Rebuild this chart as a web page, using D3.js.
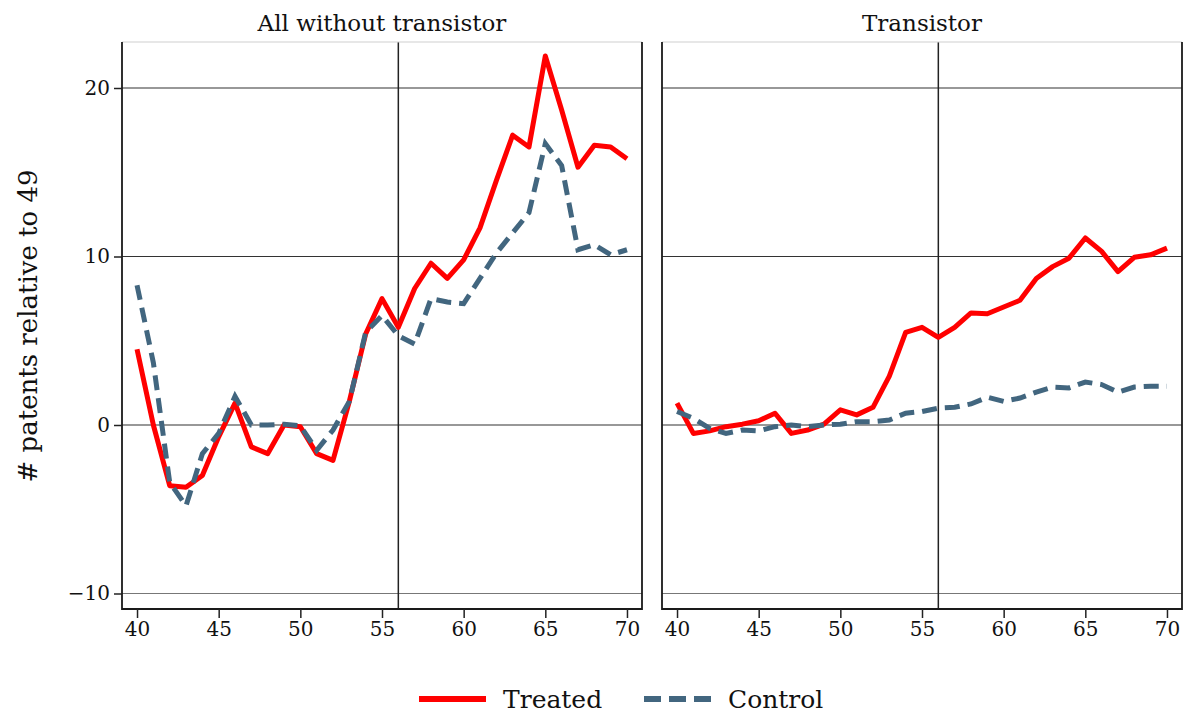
<!DOCTYPE html>
<html>
<head>
<meta charset="utf-8">
<script src="https://cdn.jsdelivr.net/npm/d3@7"></script>
<style>
  body { margin: 0; background: #fff; }
  text { font-family: "DejaVu Serif", serif; fill: #111; }
</style>
</head>
<body>
<script>
// years on the x axis
var years = [40,41,42,43,44,45,46,47,48,49,50,51,52,53,54,55,56,57,58,59,60,61,62,63,64,65,66,67,68,69,70];

// All without transistor
var allTreated = [4.5,0.0,-3.6,-3.7,-3.0,-0.7,1.3,-1.3,-1.7,0.0,-0.1,-1.7,-2.1,1.4,5.4,7.5,5.8,8.1,9.6,8.7,9.8,11.7,14.5,17.2,16.5,21.9,18.7,15.3,16.6,16.5,15.8];
var allControl = [8.3,3.7,-3.4,-4.8,-1.7,-0.5,1.7,0.0,0.0,0.05,-0.05,-1.5,-0.3,1.4,5.5,6.5,5.3,4.8,7.5,7.3,7.2,8.7,10.2,11.4,12.6,16.7,15.4,10.4,10.7,10.1,10.4];

// Transistor
var trTreated = [1.3,-0.5,-0.35,-0.1,0.05,0.25,0.7,-0.5,-0.3,0.05,0.9,0.6,1.05,2.9,5.5,5.8,5.2,5.8,6.65,6.6,7.0,7.4,8.7,9.4,9.9,11.1,10.3,9.1,9.95,10.1,10.5];
var trControl = [0.8,0.4,-0.2,-0.5,-0.3,-0.35,-0.1,0.0,-0.1,0.0,0.05,0.2,0.2,0.3,0.7,0.8,1.0,1.05,1.25,1.65,1.4,1.6,1.95,2.25,2.2,2.55,2.4,1.95,2.25,2.3,2.3];

var panelTitles = ["All without transistor", "Transistor"];
var xTicks = [40,45,50,55,60,65,70];
var yTicks = [-10,0,10,20];
var eventYear = 56;
var legendLabels = ["Treated", "Control"];

var width = 1184;
var height = 713;
var plotTop = 42, plotBottom = 609, panelW = 520;
var redCol = "#ff0000", blueCol = "#42667f";

var svg = d3.select("body").append("svg")
    .attr("width", width)
    .attr("height", height);

var y = d3.scaleLinear().domain([-10.92, 22.73]).range([plotBottom, plotTop]);

var panels = [
  {title: panelTitles[0], left: 122, treated: allTreated, control: allControl},
  {title: panelTitles[1], left: 662, treated: trTreated, control: trControl}
];

function drawPanel(p, i) {
    var x = d3.scaleLinear().domain([39.08, 70.92]).range([p.left, p.left + panelW]);
    var g = svg.append("g");

    // horizontal grid
    g.selectAll("line.grid")
        .data(yTicks)
        .enter().append("line")
        .attr("x1", p.left).attr("x2", p.left + panelW)
        .attr("y1", function(d) { return y(d); })
        .attr("y2", function(d) { return y(d); })
        .attr("stroke", function(d) { return d == -10 ? "#777" : "#333"; })
        .attr("stroke-width", 1.2);

    // event line
    g.append("line")
        .attr("x1", x(eventYear)).attr("x2", x(eventYear))
        .attr("y1", plotTop).attr("y2", plotBottom)
        .attr("stroke", "#222").attr("stroke-width", 1.5);

    // frame: light top, dark others
    g.append("line").attr("x1", p.left).attr("x2", p.left + panelW)
        .attr("y1", plotTop).attr("y2", plotTop)
        .attr("stroke", "#d0d0d0").attr("stroke-width", 1.2);
    g.append("path")
        .attr("d", "M" + p.left + "," + plotTop + "V" + plotBottom + "H" + (p.left + panelW) + "V" + plotTop)
        .attr("fill", "none").attr("stroke", "#1a1a1a").attr("stroke-width", 1.8);

    var line = d3.line()
        .x(function(d, j) { return x(years[j]); })
        .y(function(d) { return y(d); });

    g.append("path")
        .attr("d", line(p.treated))
        .attr("fill", "none")
        .attr("stroke", redCol)
        .attr("stroke-width", 5)
        .attr("stroke-linejoin", "round");

    g.append("path")
        .attr("d", line(p.control))
        .attr("fill", "none")
        .attr("stroke", blueCol)
        .attr("stroke-width", 5)
        .attr("stroke-dasharray", "15,8");

    // x axis
    var xa = g.append("g")
        .attr("transform", "translate(0," + plotBottom + ")")
        .call(d3.axisBottom(x).tickValues(xTicks).tickSize(9).tickPadding(4));
    xa.select(".domain").remove();
    xa.selectAll("line").attr("stroke", "#222").attr("stroke-width", 1.5);
    xa.selectAll("text").attr("font-size", 20).attr("font-family", "DejaVu Serif").attr("fill", "#111");

    // y axis only on first panel
    if (i == 0) {
        var ya = g.append("g")
            .attr("transform", "translate(" + p.left + ",0)")
            .call(d3.axisLeft(y).tickValues(yTicks).tickSize(8).tickPadding(4));
        ya.select(".domain").remove();
        ya.selectAll("line").attr("stroke", "#222").attr("stroke-width", 1.5);
        ya.selectAll("text").attr("font-size", 20).attr("font-family", "DejaVu Serif").attr("fill", "#111");
    }

    // panel title
    svg.append("text")
        .attr("x", p.left + panelW / 2)
        .attr("y", 31)
        .attr("text-anchor", "middle")
        .attr("font-size", 23)
        .text(p.title);
}

panels.forEach(drawPanel);

// y axis title
svg.append("text")
    .attr("transform", "translate(37," + 326 + ") rotate(-90)")
    .attr("text-anchor", "middle")
    .attr("font-size", 26)
    .text("# patents relative to 49");

// legend
var legend = svg.append("g");
legend.append("line")
    .attr("x1", 419).attr("x2", 486).attr("y1", 699).attr("y2", 699)
    .attr("stroke", redCol).attr("stroke-width", 6);
legend.append("text")
    .attr("x", 503).attr("y", 708).attr("font-size", 25)
    .text(legendLabels[0]);
legend.append("line")
    .attr("x1", 644).attr("x2", 711).attr("y1", 699).attr("y2", 699)
    .attr("stroke", blueCol).attr("stroke-width", 6)
    .attr("stroke-dasharray", "17,8");
legend.append("text")
    .attr("x", 728).attr("y", 708).attr("font-size", 25)
    .text(legendLabels[1]);
</script>
</body>
</html>
